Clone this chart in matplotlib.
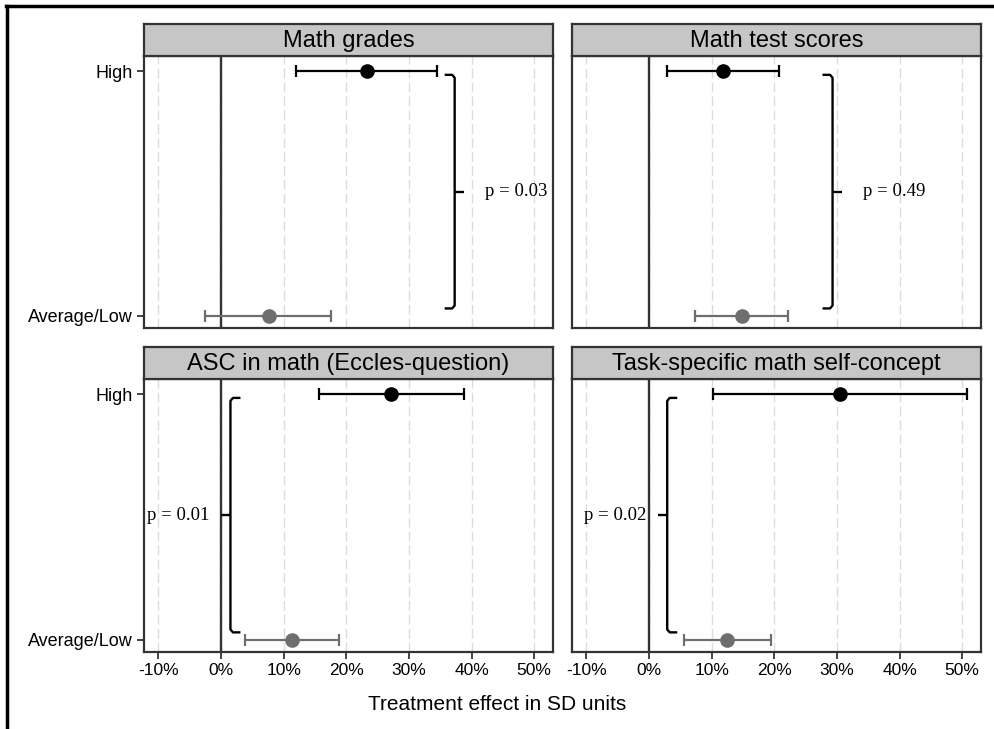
#!/usr/bin/env python

"""
treatment effects by ability group, four outcomes, 2x2 panels
"""

import matplotlib
matplotlib.use('Agg')
import matplotlib.pyplot as plt
from matplotlib.lines import Line2D
from matplotlib.ticker import FuncFormatter

plt.rcParams['font.family'] = ['Liberation Sans', 'DejaVu Sans']

OUTFILE = 'out.png'

outcomes = ['Math grades', 'Math test scores',
            'ASC in math (Eccles-question)', 'Task-specific math self-concept']
groups = ['Average/Low', 'High']

# estimates and 95% CI bounds, in percent of an SD
high_est = [23.3, 11.8, 27.2, 30.5]
high_lo = [12.0, 2.9, 15.6, 10.2]
high_hi = [34.5, 20.7, 38.8, 50.8]
low_est = [7.6, 14.8, 11.4, 12.5]
low_lo = [-2.5, 7.3, 3.8, 5.6]
low_hi = [17.6, 22.2, 18.9, 19.5]

p_labels = ['p = 0.03', 'p = 0.49', 'p = 0.01', 'p = 0.02']

x_ticks = [-10, 0, 10, 20, 30, 40, 50]

# bracket placement (annotation layout, not data)
bracket_x = [37.3, 29.3, 1.5, 2.9]
bracket_side = [1, 1, -1, -1]   # +1: label on the right, -1: label on the left

W, H = 995, 729
# panel boxes in pixels: left, top, right, bottom
panels_px = [(144, 56, 553, 328), (572, 56, 981, 328),
             (144, 379, 553, 652), (572, 379, 981, 652)]
STRIP_H = 32


def px_box(l, t, r, b):
    return [l / W, 1 - b / H, (r - l) / W, (b - t) / H]


def draw_bracket(ax, x, side, label):
    y0, y1 = 1.03, 1.985
    ym = (y0 + y1) / 2
    end = x - side * 1.6
    tip = x + side * 1.5
    kw = dict(color='black', lw=1.7, solid_capstyle='butt', solid_joinstyle='round')
    ax.add_line(Line2D([end, x - side * 0.4, x, x, x - side * 0.4, end],
                       [y1, y1, y1 - 0.012, y0 + 0.012, y0, y0], **kw))
    ax.add_line(Line2D([x, tip], [ym, ym], **kw))
    serif = ['Liberation Serif', 'DejaVu Serif']
    if side > 0:
        ax.text(x + 4.9, ym, label, ha='left', va='center', fontsize=13.5, family=serif)
    else:
        ax.text(x - 3.4, ym, label, ha='right', va='center', fontsize=13.5, family=serif)


def main():
    fig = plt.figure(figsize=(W / 100, H / 100), dpi=100)

    # frame lines (image is cropped: only left and top remain)
    fig.add_artist(Line2D([6 / W, 1], [1 - 5.5 / H, 1 - 5.5 / H], color='black', lw=2.5,
                          transform=fig.transFigure))
    fig.add_artist(Line2D([7 / W, 7 / W], [0, 1 - 5.5 / H], color='black', lw=2.5,
                          transform=fig.transFigure))

    pct = FuncFormatter(lambda v, _: '%d%%' % v)

    for i, name in enumerate(outcomes):
        l, t, r, b = panels_px[i]
        ax = fig.add_axes(px_box(l, t, r, b))
        ax.set_xlim(-12.3, 53.0)
        ax.set_ylim(0.95, 2.062)
        ax.set_xticks(x_ticks)
        ax.xaxis.set_major_formatter(pct)
        ax.set_yticks([1, 2])
        ax.grid(axis='x', color='#dcdcdc', lw=1.0, ls=(0, (7, 3)))
        ax.set_axisbelow(True)
        ax.axvline(0, color='#333333', lw=1.7, zorder=1)
        for s in ax.spines.values():
            s.set_color('#333333')
            s.set_linewidth(1.6)
        ax.tick_params(axis='both', length=5, width=1.4, color='#444444', pad=3)
        ax.tick_params(axis='x', labelsize=12.5)
        ax.tick_params(axis='y', labelsize=13)

        if i % 2 == 0:
            ax.set_yticklabels(groups)
        else:
            ax.tick_params(axis='y', left=False, labelleft=False)
        if i < 2:
            ax.tick_params(axis='x', bottom=False, labelbottom=False)

        # points with confidence intervals
        ax.errorbar([high_est[i]], [2], xerr=[[high_est[i] - high_lo[i]], [high_hi[i] - high_est[i]]],
                    fmt='o', color='black', ms=9.5, elinewidth=1.6, capsize=4, capthick=1.6, zorder=3)
        ax.errorbar([low_est[i]], [1], xerr=[[low_est[i] - low_lo[i]], [low_hi[i] - low_est[i]]],
                    fmt='o', color='#6e6e6e', ms=9.5, elinewidth=1.6, capsize=4, capthick=1.6, zorder=3)

        draw_bracket(ax, bracket_x[i], bracket_side[i], p_labels[i])

        # facet strip
        sax = fig.add_axes(px_box(l, t - STRIP_H, r, t))
        sax.set_facecolor('#c6c6c6')
        sax.set_xticks([])
        sax.set_yticks([])
        for s in sax.spines.values():
            s.set_color('#333333')
            s.set_linewidth(1.6)
        sax.text(0.5, 0.47, name, ha='center', va='center', fontsize=17,
                 transform=sax.transAxes)

    fig.text(0.5, 1 - 705 / H, 'Treatment effect in SD units',
             ha='center', va='center', fontsize=15)

    fig.savefig(OUTFILE, dpi=100, facecolor='w')


if __name__ == '__main__':
    main()
